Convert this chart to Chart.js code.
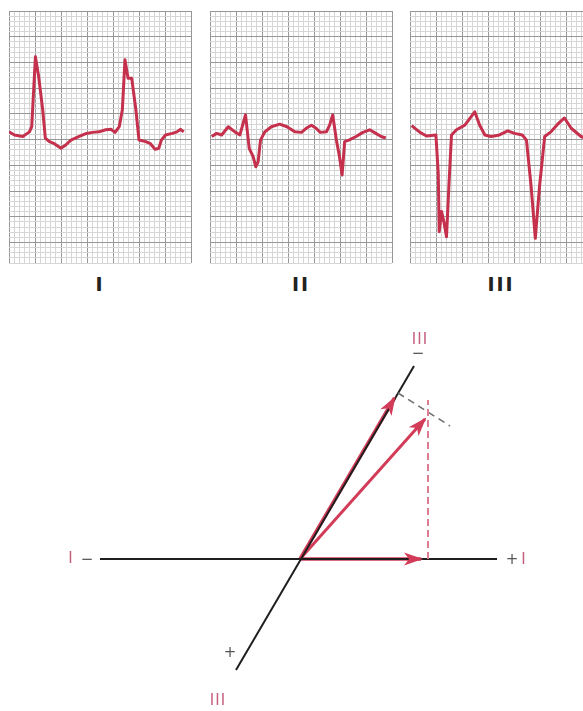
<!DOCTYPE html>
<html>
<head>
<meta charset="utf-8">
<script src="https://cdn.jsdelivr.net/npm/chart.js@4.4.1/dist/chart.umd.min.js"></script>
<style>
  html, body { margin: 0; padding: 0; background: #fff; overflow: hidden; }
  #wrap { position: relative; width: 583px; height: 711px; overflow: hidden; }
  canvas { position: absolute; }
  .lead { position: absolute; width: 182px; text-align: center; top: 273px; line-height: 24px;
          font: bold 19px "DejaVu Sans", sans-serif; color: #222; letter-spacing: 2px; }
  .lbl { position: absolute; transform: translate(-50%, -50%); white-space: nowrap;
         font: 15px "DejaVu Sans", sans-serif; line-height: 16px; }
  .pink { color: #c4607e; letter-spacing: 1px; }
  .sign { color: #555; }
</style>
</head>
<body>
<div id="wrap">
  <canvas id="ecg1" width="184" height="254" style="left:8px;top:10px"></canvas>
  <canvas id="ecg2" width="184" height="254" style="left:209px;top:10px"></canvas>
  <canvas id="ecg3" width="184" height="254" style="left:409px;top:10px"></canvas>
  <div class="lead" style="left:9px">I</div>
  <div class="lead" style="left:210px">II</div>
  <div class="lead" style="left:410px">III</div>

  <canvas id="vectors" width="583" height="411" style="left:0;top:300px"></canvas>
  <span class="lbl pink" style="left:71px;top:558px">I</span>
  <span class="lbl sign" style="left:87px;top:559px">&minus;</span>
  <span class="lbl sign" style="left:512px;top:559px">+</span>
  <span class="lbl pink" style="left:524px;top:559px">I</span>
  <span class="lbl pink" style="left:420px;top:339px">III</span>
  <span class="lbl sign" style="left:418px;top:353px">&minus;</span>
  <span class="lbl sign" style="left:230px;top:652px">+</span>
  <span class="lbl pink" style="left:218px;top:700px">III</span>
</div>

<script>
// ================= ECG TRACES (x, y in small squares of the grid) =================

const leadIx = [0, 1.05, 2.65, 3.93, 4.37, 5.08, 5.71, 6.48, 6.99, 7.76, 8.72, 10.0, 10.96, 11.9, 13.5, 14.9,
  16.05, 17.3, 18.6, 19.6, 20.4, 21.2, 21.8, 22.3, 22.9, 23.6, 24.4, 25.0, 26.3, 27.2, 28.1, 28.8, 29.3,
  30.1, 31.4, 32.3, 33.0, 33.6];
const leadIy = [25.5, 24.9, 24.6, 25.5, 26.5, 40.1, 36.2, 29.8, 24.3, 23.6, 23.2, 22.3, 23.0, 23.9, 24.6, 25.2,
  25.4, 25.5, 25.9, 26.0, 25.4, 26.5, 29.8, 39.5, 35.9, 35.9, 29.8, 23.9, 23.6, 23.2, 22.1, 22.3, 23.9,
  24.9, 25.2, 25.5, 26.0, 25.5];

const leadIIx = [0.32, 1.28, 2.24, 3.51, 4.79, 5.75, 6.83, 7.54, 8.3, 8.81, 9.26, 9.71, 10.54, 11.8, 13.4, 14.8,
  16.3, 17.6, 18.5, 19.5, 20.4, 21.2, 22.4, 23.0, 23.6, 24.3, 24.9, 25.4, 25.9, 26.7, 28.1, 29.4, 30.7,
  31.9, 32.9, 33.8];
const leadIIy = [24.6, 25.2, 24.9, 26.5, 25.5, 24.9, 28.8, 22.3, 20.7, 18.7, 19.7, 23.9, 25.5, 26.5, 27.0, 26.5,
  25.5, 25.4, 26.2, 26.8, 26.2, 25.4, 25.5, 26.8, 28.8, 23.9, 20.7, 17.1, 23.6, 23.9, 24.6, 25.4, 25.9,
  25.2, 24.6, 24.3];

const leadIIIx = [0.32, 1.92, 3.19, 4.98, 5.43, 5.62, 6.07, 6.51, 7.02, 7.47, 7.98, 8.94, 10.54, 12.45, 13.4,
  14.4, 15.6, 17.2, 18.8, 20.1, 21.6, 22.4, 23.3, 24.1, 24.9, 25.9, 27.1, 28.4, 29.7, 31.0, 32.9, 34.5];
const leadIIIy = [26.7, 25.4, 24.7, 24.9, 17.5, 6.1, 10.0, 8.0, 5.1, 14.8, 24.9, 25.9, 26.8, 29.4, 26.8,
  24.9, 24.6, 24.9, 25.7, 25.2, 24.9, 23.9, 14.8, 4.8, 14.8, 24.6, 25.5, 27.0, 28.2, 26.2, 24.6, 24.0];

// grid size in small squares
const gridCols = 35;
const gridRows = 49;

// ================= VECTOR DIAGRAM (centre of the axes at 0,0) =================

const leadIAxis = [[-200, 0], [197, 0]];
const leadIIIAxis = [[-64, -111], [114, 193]];
const projectionI = [[0, 0], [121, 0]];
const projectionIII = [[0, 0], [94.5, 161]];
const meanVector = [[0, 0], [125, 140]];
const dropI = [[128, 0], [128, 159]];
const dropIII = [[98, 166], [150, 133]];

const traceColor = "#c5304d";
const arrowColor = "#d23c58";

function ecgChart(id, xs, ys) {
  const ctx = document.getElementById(id).getContext("2d");
  return new Chart(ctx, {
    type: "line",
    data: {
      datasets: [{
        data: xs.map((x, i) => ({ x: x, y: ys[i] })),
        borderColor: traceColor,
        borderWidth: 3,
        borderJoinStyle: "round",
        pointRadius: 0,
        tension: 0,
        fill: false
      }]
    },
    options: {
      responsive: false,
      animation: false,
      events: [],
      layout: { padding: 1 },
      plugins: { legend: { display: false }, tooltip: { enabled: false } },
      scales: {
        x: {
          type: "linear", min: 0, max: gridCols,
          ticks: { display: false, stepSize: 1 },
          border: { display: false },
          grid: { drawTicks: false, lineWidth: 1,
            color: c => (c.tick && c.tick.value % 5 === 0) ? "#979797" : "#d6d6d6" }
        },
        y: {
          type: "linear", min: 0, max: gridRows,
          ticks: { display: false, stepSize: 1 },
          border: { display: false },
          grid: { drawTicks: false, lineWidth: 1,
            color: c => (c.tick && (gridRows - c.tick.value) % 5 === 0) ? "#979797" : "#d6d6d6" }
        }
      }
    }
  });
}

ecgChart("ecg1", leadIx, leadIy);
ecgChart("ecg2", leadIIx, leadIIy);
ecgChart("ecg3", leadIIIx, leadIIIy);

// arrow heads at the end of datasets marked with arrow: true
const arrowHeads = {
  id: "arrowHeads",
  afterDatasetsDraw(chart) {
    const c = chart.ctx;
    chart.data.datasets.forEach((ds, i) => {
      if (!ds.arrow) return;
      const pts = chart.getDatasetMeta(i).data;
      const a = pts[pts.length - 2];
      const b = pts[pts.length - 1];
      const ang = Math.atan2(b.y - a.y, b.x - a.x);
      c.save();
      c.translate(b.x, b.y);
      c.rotate(ang);
      c.beginPath();
      c.moveTo(2, 0);
      c.lineTo(-17, -6.5);
      c.lineTo(-12, 0);
      c.lineTo(-17, 6.5);
      c.closePath();
      c.fillStyle = ds.borderColor;
      c.fill();
      c.restore();
    });
  }
};

function seg(points, color, width, dash, arrow) {
  return {
    data: points.map(p => ({ x: p[0], y: p[1] })),
    showLine: true,
    borderColor: color,
    borderWidth: width,
    borderDash: dash,
    borderCapStyle: "butt",
    pointRadius: 0,
    fill: false,
    arrow: arrow
  };
}

new Chart(document.getElementById("vectors").getContext("2d"), {
  type: "scatter",
  data: {
    datasets: [
      seg(dropI, "#dc7d93", 2, [7, 4], false),
      seg(dropIII, "#6d6d6d", 1.5, [7, 5], false),
      seg(leadIAxis, "#1e1e1e", 2, [], false),
      seg(leadIIIAxis, "#1e1e1e", 2, [], false),
      seg(projectionI, arrowColor, 3.5, [], true),
      seg(projectionIII, arrowColor, 3.5, [], true),
      seg(meanVector, arrowColor, 3, [], true)
    ]
  },
  options: {
    responsive: false,
    animation: false,
    events: [],
    layout: { padding: 0 },
    plugins: { legend: { display: false }, tooltip: { enabled: false } },
    scales: {
      x: { type: "linear", min: -300, max: 283, display: false },
      y: { type: "linear", min: -152, max: 259, display: false }
    }
  },
  plugins: [arrowHeads]
});
</script>
</body>
</html>
